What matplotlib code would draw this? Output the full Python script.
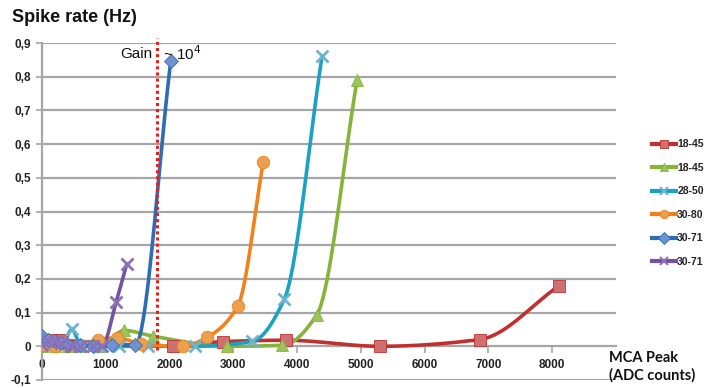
import numpy as np
import matplotlib
matplotlib.use("Agg")
import matplotlib.pyplot as plt
from matplotlib.lines import Line2D

# ---------------- data ----------------
series_labels = ["18-45", "18-45", "28-50", "30-80", "30-71", "30-71"]

red_x = [0, 150, 300, 2060, 2840, 3830, 5300, 6860, 8110]
red_y = [0.01, 0.02, 0.018, 0.0, 0.014, 0.018, 0.0, 0.02, 0.18]

green_x = [0, 200, 400, 600, 900, 1290, 1740, 2900, 3770, 4310, 4940]
green_y = [0.0, 0.0, 0.0, 0.0, 0.0, 0.047, 0.03, 0.0, 0.003, 0.094, 0.79]

cyan_x = [0, 150, 300, 470, 620, 900, 1200, 1660, 2400, 3300, 3800, 4390]
cyan_y = [0.01, 0.005, 0.0, 0.05, 0.0, 0.0, 0.0, 0.0, 0.0, 0.015, 0.14, 0.86]

orange_x = [0, 200, 400, 600, 880, 1180, 1560, 2210, 2590, 3070, 3470]
orange_y = [0.005, 0.0, 0.0, 0.005, 0.02, 0.025, 0.007, 0.0, 0.027, 0.12, 0.548]

blue_x = [0, 100, 200, 300, 400, 600, 800, 1100, 1460, 2020]
blue_y = [0.03, 0.018, 0.015, 0.01, 0.005, 0.005, 0.0, 0.003, 0.003, 0.848]

purple_x = [0, 100, 200, 300, 450, 600, 800, 940, 1160, 1330]
purple_y = [0.005, 0.015, 0.015, 0.01, 0.0, 0.0, 0.0, 0.0, 0.13, 0.245]

x_ticks = [0, 1000, 2000, 3000, 4000, 5000, 6000, 7000, 8000]
x_ticklabels = ["0", "1000", "2000", "3000", "4000", "5000", "6000", "7000", "8000"]
y_ticks = [-0.1, 0.0, 0.1, 0.2, 0.3, 0.4, 0.5, 0.6, 0.7, 0.8, 0.9]
y_ticklabels = ["-0,1", "0", "0,1", "0,2", "0,3", "0,4", "0,5", "0,6", "0,7", "0,8", "0,9"]
gain_x = 1800

# ---------------- styling ----------------
line_colors = ["#c0302f", "#86b33a", "#1ba1c1", "#f0821e", "#2f6db3", "#7354a4"]
marker_face = ["#cf7070", "#9cc45a", "#6fb3cf", "#eba050", "#7092d0", "#8c70b8"]
markers = ["s", "^", "x", "o", "D", "x"]
msizes = [8, 8, 9, 9, 7, 9]

ARIAL = ["Liberation Sans", "DejaVu Sans"]
GILL = ["Lato", "DejaVu Sans"]


def smooth(x, y, n=40):
    """Smooth curve through the points (monotone cubic Hermite)."""
    x = np.asarray(x, float)
    y = np.asarray(y, float)
    h = np.diff(x)
    d = np.diff(y) / h
    m = np.zeros_like(y)
    m[0], m[-1] = d[0], d[-1]
    for k in range(1, len(x) - 1):
        if d[k - 1] * d[k] <= 0:
            m[k] = 0.0
        else:
            w1 = 2 * h[k] + h[k - 1]
            w2 = h[k] + 2 * h[k - 1]
            m[k] = (w1 + w2) / (w1 / d[k - 1] + w2 / d[k])
    xs, ys = [], []
    for k in range(len(x) - 1):
        t = np.linspace(0, 1, n)
        h00 = 2 * t**3 - 3 * t**2 + 1
        h10 = t**3 - 2 * t**2 + t
        h01 = -2 * t**3 + 3 * t**2
        h11 = t**3 - t**2
        seg = h00 * y[k] + h10 * h[k] * m[k] + h01 * y[k + 1] + h11 * h[k] * m[k + 1]
        xs.append(x[k] + t * h[k])
        ys.append(seg)
    return np.concatenate(xs), np.concatenate(ys)


fig = plt.figure(figsize=(7.07, 3.88), dpi=100)
ax = fig.add_axes([42 / 707, 8 / 388, 574 / 707, 337 / 388])
ax.set_xlim(0, 9000)
ax.set_ylim(-0.1, 0.9)

grid_c = "#a6a6a6"
for yv in y_ticks:
    if yv != 0.0:
        ax.axhline(yv, color=grid_c, lw=1.6, zorder=0)

ax.spines["top"].set_visible(False)
ax.spines["right"].set_visible(False)
ax.spines["left"].set_color(grid_c)
ax.spines["left"].set_linewidth(1.6)
ax.spines["bottom"].set_position(("data", 0))
ax.spines["bottom"].set_color(grid_c)
ax.spines["bottom"].set_linewidth(1.6)

ax.set_xticks(x_ticks)
ax.set_xticklabels(x_ticklabels, fontsize=8.5, fontweight="bold", color="#222222",
                   family=ARIAL)
ax.set_yticks(y_ticks)
ax.set_yticklabels(y_ticklabels, fontsize=8.5, fontweight="bold", color="#222222",
                   family=ARIAL)
ax.tick_params(axis="x", length=5, width=1.2, color=grid_c, pad=4)
ax.tick_params(axis="y", length=4, width=1.2, color=grid_c, pad=4)

all_series = [(red_x, red_y), (green_x, green_y), (cyan_x, cyan_y),
              (orange_x, orange_y), (blue_x, blue_y), (purple_x, purple_y)]
handles = []
for i, (xs, ys) in enumerate(all_series):
    sx, sy = smooth(xs, ys)
    ax.plot(sx, sy, color=line_colors[i], lw=2.6, zorder=3, solid_capstyle="round")
    mk = markers[i]
    if mk == "x":
        ax.plot(xs, ys, linestyle="none", marker=mk, ms=msizes[i], mew=2,
                color=marker_face[i], zorder=4)
        h = Line2D([], [], color=line_colors[i], lw=3, marker=mk, ms=6, mew=1.5,
                   markeredgecolor=marker_face[i])
    else:
        ax.plot(xs, ys, linestyle="none", marker=mk, ms=msizes[i],
                markerfacecolor=marker_face[i], markeredgecolor=line_colors[i],
                mew=0.6, zorder=4)
        h = Line2D([], [], color=line_colors[i], lw=3, marker=mk, ms=6,
                   markerfacecolor=marker_face[i], markeredgecolor=line_colors[i], mew=0.6)
    handles.append(h)

# Gain line
ax.plot([gain_x, gain_x], [-0.01, 0.915], linestyle=(0, (1, 1)), color="#e3201b",
        lw=2.2, zorder=5, clip_on=False)
ax.text(1730, 0.868, "Gain", fontsize=11, color="#111111",
        ha="right", va="center", zorder=6, family=ARIAL)
ax.text(1890, 0.868, "~ 10$^4$", fontsize=11, color="#111111",
        ha="left", va="center", zorder=6, family=ARIAL)

fig.text(12 / 707, 1 - 17 / 388, "Spike rate (Hz)", fontsize=13, fontweight="bold",
         ha="left", va="center", color="#111111", family=ARIAL)
fig.text(609 / 707, 1 - 367 / 388, "MCA Peak\n(ADC counts)", fontsize=10.5,
         fontweight="bold", ha="left", va="center", color="#111111", linespacing=1.25,
         family=GILL)

fig.legend(handles, series_labels, loc="upper left",
           bbox_to_anchor=(648 / 707, 1 - 135 / 388), frameon=False,
           prop={"size": 7.5, "weight": "bold", "family": ARIAL},
           handlelength=2.3, handletextpad=0.1,
           labelspacing=1.3, labelcolor="#222222", borderaxespad=0)

fig.savefig("out.png", dpi=100)
